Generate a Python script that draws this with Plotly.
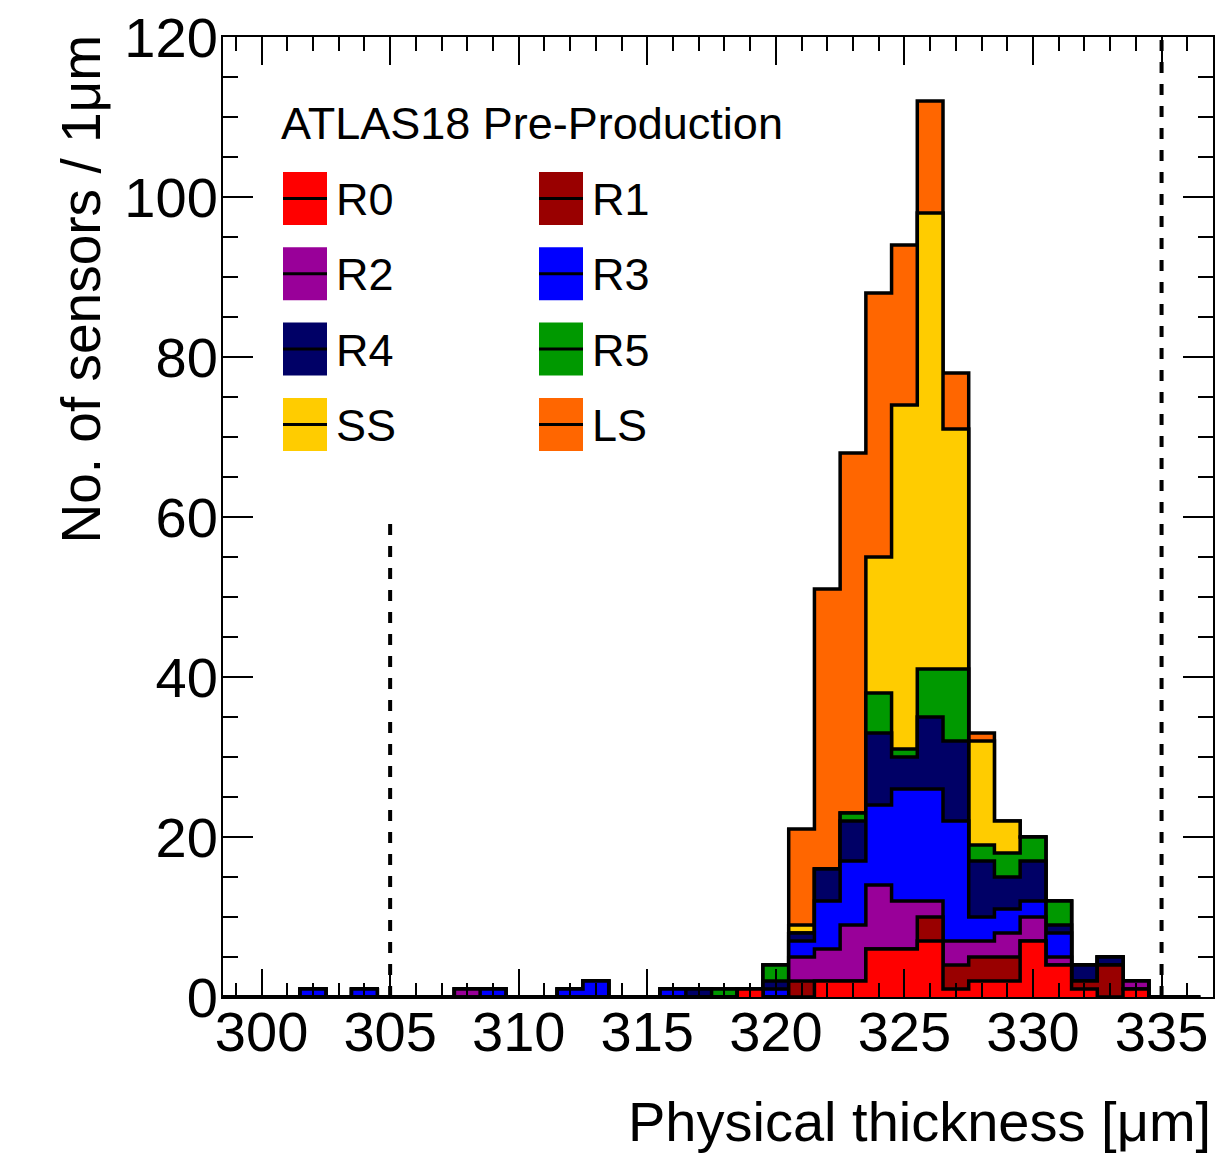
import numpy as np
import plotly.graph_objects as go

# ---------------- data (bins of 1 um, centres 299 ... 336) ----------------
bin_first_centre = 299
bin_width = 1.0
n_bins = 38

R0 = [0, 0, 0, 0, 0, 0, 0, 0, 0, 0, 0, 0, 0, 0, 0, 0, 0, 0, 0, 0,
      1, 0, 0, 2, 2, 6, 6, 7, 1, 2, 2, 7, 4, 1, 0, 1, 0, 0]
R1 = [0, 0, 0, 0, 0, 0, 0, 0, 0, 0, 0, 0, 0, 0, 0, 0, 0, 0, 0, 0,
      0, 0, 2, 0, 0, 0, 0, 3, 3, 3, 3, 0, 0, 1, 4, 0, 0, 0]
R2 = [0, 0, 0, 0, 0, 0, 0, 0, 0, 1, 0, 0, 0, 0, 0, 0, 0, 0, 0, 0,
      0, 0, 3, 4, 7, 8, 6, 2, 3, 2, 3, 3, 1, 0, 0, 1, 0, 0]
R3 = [0, 0, 0, 1, 0, 1, 0, 0, 0, 0, 1, 0, 0, 1, 2, 0, 0, 1, 0, 0,
      0, 1, 2, 6, 8, 10, 14, 14, 15, 3, 3, 2, 3, 0, 0, 0, 0, 0]
R4 = [0, 0, 0, 0, 0, 0, 0, 0, 0, 0, 0, 0, 0, 0, 0, 0, 0, 0, 1, 0,
      0, 1, 1, 4, 5, 9, 4, 9, 10, 7, 4, 5, 1, 2, 1, 0, 0, 0]
R5 = [0, 0, 0, 0, 0, 0, 0, 0, 0, 0, 0, 0, 0, 0, 0, 0, 0, 0, 0, 1,
      0, 2, 0, 0, 1, 5, 1, 6, 9, 2, 3, 3, 3, 0, 0, 0, 0, 0]
SS = [0, 0, 0, 0, 0, 0, 0, 0, 0, 0, 0, 0, 0, 0, 0, 0, 0, 0, 0, 0,
      0, 0, 1, 0, 0, 17, 43, 57, 30, 13, 4, 0, 0, 0, 0, 0, 0, 0]
LS = [0, 0, 0, 0, 0, 0, 0, 0, 0, 0, 0, 0, 0, 0, 0, 0, 0, 0, 0, 0,
      0, 0, 12, 35, 45, 33, 20, 14, 7, 1, 0, 0, 0, 0, 0, 0, 0, 0]

series_names = ["R0", "R1", "R2", "R3", "R4", "R5", "SS", "LS"]
series_values = [R0, R1, R2, R3, R4, R5, SS, LS]
series_colors = ["#FF0000", "#990000", "#990099", "#0000FF",
                 "#000066", "#009900", "#FFCC00", "#FF6600"]

# specification limits (dashed lines)
limit_x = [305, 335]
limit_top = [60, 120]

x_ticks = [300, 305, 310, 315, 320, 325, 330, 335]
y_ticks = [0, 20, 40, 60, 80, 100, 120]

title_text = "ATLAS18 Pre-Production"
x_title = "Physical thickness [μm]"
y_title = "No. of sensors / 1μm"

# ---------------- figure ----------------
FONT = "Liberation Sans, Arial, Helvetica, sans-serif"
edges = bin_first_centre - bin_width / 2 + bin_width * np.arange(n_bins + 1)
cumulative = np.cumsum(np.array(series_values, dtype=float), axis=0)

fig = go.Figure()
for k in reversed(range(len(series_names))):
    ystep = np.append(cumulative[k], cumulative[k][-1])
    fig.add_trace(go.Scatter(
        x=edges, y=ystep, mode="lines",
        line=dict(shape="hv", color="black", width=3.5),
        fill="tozeroy", fillcolor=series_colors[k],
        name=series_names[k], showlegend=False, hoverinfo="skip"))

shapes = []
for xv, top in zip(limit_x, limit_top):
    shapes.append(dict(type="line", xref="x", yref="y", x0=xv, x1=xv, y0=0, y1=top,
                       line=dict(color="black", width=4, dash="11px,11px"), layer="above"))

# manual two-column legend (paper coordinates)
PL, PW, PT, PH = 223, 990, 37, 960
def px(xp):
    return (xp - PL) / PW
def py(yp):
    return (PT + PH - yp) / PH

annotations = [dict(text=title_text, x=px(279), y=py(124), xref="paper", yref="paper",
                    xanchor="left", yanchor="middle", showarrow=False,
                    font=dict(family=FONT, size=45, color="black"))]
col_x = [283, 539]
row_top = 172
row_step = 75.3
sw_w, sw_h = 44, 53
for i, (nm, col) in enumerate(zip(series_names, series_colors)):
    r, c = divmod(i, 2)
    x0 = col_x[c]
    y0 = row_top + r * row_step
    shapes.append(dict(type="rect", xref="paper", yref="paper",
                       x0=px(x0), x1=px(x0 + sw_w), y0=py(y0 + sw_h), y1=py(y0),
                       fillcolor=col, line=dict(width=0), layer="above"))
    shapes.append(dict(type="line", xref="paper", yref="paper",
                       x0=px(x0), x1=px(x0 + sw_w), y0=py(y0 + sw_h / 2), y1=py(y0 + sw_h / 2),
                       line=dict(color="black", width=3), layer="above"))
    annotations.append(dict(text=nm, x=px(x0 + sw_w + 7), y=py(y0 + sw_h / 2 + 1),
                            xref="paper", yref="paper", xanchor="left", yanchor="middle",
                            showarrow=False, font=dict(family=FONT, size=45, color="black")))

annotations.append(dict(text=x_title, x=1.0, y=py(1121), xref="paper", yref="paper",
                        xanchor="right", yanchor="middle", showarrow=False,
                        font=dict(family=FONT, size=56, color="black")))
annotations.append(dict(text=y_title, x=px(80), y=py(33), xref="paper", yref="paper",
                        xanchor="center", yanchor="top", textangle=-90, showarrow=False,
                        font=dict(family=FONT, size=55, color="black")))

axis_common = dict(showline=True, linewidth=2, linecolor="black", mirror="ticks",
                   ticks="inside", tickwidth=2, tickcolor="black", showgrid=False,
                   zeroline=False, automargin=False,
                   tickfont=dict(family=FONT, size=56, color="black"))

fig.update_layout(
    template="none",
    width=1220, height=1155,
    margin=dict(l=223, r=7, t=37, b=158, autoexpand=False),
    paper_bgcolor="white", plot_bgcolor="white",
    font=dict(family=FONT, color="black"),
    xaxis=dict(range=[298.5, 337], tickvals=x_ticks, ticklen=28, ticklabelstandoff=-15,
               minor=dict(dtick=1, tick0=300, ticklen=14, tickwidth=2, ticks="inside",
                          tickcolor="black"),
               **axis_common),
    yaxis=dict(range=[0, 120], tickvals=y_ticks, ticklen=30, ticklabelstandoff=-8,
               minor=dict(dtick=5, tick0=0, ticklen=15, tickwidth=2, ticks="inside",
                          tickcolor="black"),
               **axis_common),
    shapes=shapes,
    annotations=annotations,
    showlegend=False,
)

fig.write_html("out.html")
